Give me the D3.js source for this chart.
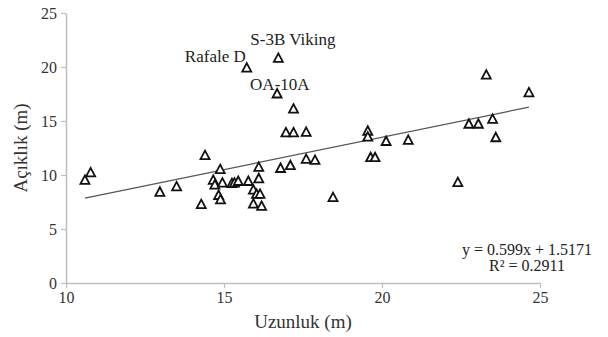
<!DOCTYPE html>
<html>
<head>
<meta charset="utf-8">
<script src="https://cdn.jsdelivr.net/npm/d3@7"></script>
<style>
  html, body { margin: 0; padding: 0; background: #fff; }
  svg text { font-family: "Liberation Serif", "Times New Roman", serif; }
</style>
</head>
<body>
<svg id="chart" width="608" height="337"></svg>
<script>
// Length (m) and span (m) of each aircraft
const lengths = [10.6, 10.78, 12.97, 13.5, 14.4, 14.28, 14.88, 14.66, 14.71, 14.95,
  14.83, 14.89, 15.25, 15.33, 15.45, 15.77, 16.1, 16.1, 15.93, 16.03,
  16.14, 15.93, 16.19, 16.79, 17.1, 17.6, 17.88, 18.45, 16.96, 17.2,
  17.6, 17.2, 16.68, 15.72, 16.72, 19.55, 19.55, 19.64, 19.78, 20.13,
  20.83, 22.75, 23.05, 23.5, 23.6, 23.3, 22.4, 24.65];
const spans = [9.5, 10.2, 8.4, 8.9, 11.8, 7.25, 10.5, 9.5, 9.07, 9.25,
  8.1, 7.7, 9.2, 9.25, 9.4, 9.4, 10.7, 9.65, 8.6, 8.2,
  8.2, 7.3, 7.1, 10.6, 10.86, 11.45, 11.35, 7.9, 13.9, 13.9,
  13.95, 16.1, 17.5, 19.9, 20.8, 14.05, 13.5, 11.6, 11.6, 13.1,
  13.2, 14.7, 14.7, 15.15, 13.45, 19.25, 9.3, 17.6];

// Named aircraft
const namedLabels = ["S-3B Viking", "Rafale D", "OA-10A"];
const namedIndex = [34, 33, 32];

const xTicks = [10, 15, 20, 25];
const yTicks = [0, 5, 10, 15, 20, 25];

const slope = 0.599, intercept = 1.5171, r2 = 0.2911;

const serif = '"Liberation Serif", "Times New Roman", serif';
const svg = d3.select("#chart");
const x = d3.scaleLinear().domain([10, 25]).range([66, 540]);
const y = d3.scaleLinear().domain([0, 25]).range([283, 13]);

const axisColor = "#bfbfbf";
const textColor = "#333";

// Axes
const xAxis = svg.append("g").attr("transform", `translate(0,${y(0)})`)
  .call(d3.axisBottom(x).tickValues(xTicks).tickSize(5).tickSizeOuter(0).tickPadding(4));
const yAxis = svg.append("g").attr("transform", `translate(${x(10)},0)`)
  .call(d3.axisLeft(y).tickValues(yTicks).tickSize(5).tickSizeOuter(0).tickPadding(4));
[xAxis, yAxis].forEach(g => {
  g.attr("font-family", serif).attr("font-size", 16);
  g.select(".domain").attr("stroke", axisColor).attr("stroke-width", 1.5);
  g.selectAll(".tick line").attr("stroke", axisColor).attr("stroke-width", 1.2);
  g.selectAll(".tick text").attr("fill", textColor);
});

// Trend line across the data range
const xMin = d3.min(lengths), xMax = d3.max(lengths);
svg.append("line")
  .attr("x1", x(xMin)).attr("y1", y(slope * xMin + intercept))
  .attr("x2", x(xMax)).attr("y2", y(slope * xMax + intercept))
  .attr("stroke", "#555").attr("stroke-width", 1.2);

// Triangle markers
const tri = "M0,-5 L4.5,3.5 L-4.5,3.5 Z";
svg.append("g").selectAll("path").data(lengths).join("path")
  .attr("d", tri)
  .attr("transform", (d, i) => `translate(${x(d)},${y(spans[i])})`)
  .attr("fill", "#fff").attr("stroke", "#111").attr("stroke-width", 1.8)
  .attr("stroke-linejoin", "miter");

// Point labels
const labelOffsets = [[-28, -13], [-1, -6], [-27, -4]];
const labelAnchors = ["start", "end", "start"];
namedLabels.forEach((t, k) => {
  const i = namedIndex[k];
  svg.append("text")
    .attr("x", x(lengths[i]) + labelOffsets[k][0])
    .attr("y", y(spans[i]) + labelOffsets[k][1])
    .attr("text-anchor", labelAnchors[k])
    .attr("fill", "#222").style("font-size", "17px").text(t);
});

// Regression equation
const eq = svg.append("g").attr("fill", "#222").style("font-size", "16px").attr("text-anchor", "middle");
eq.append("text").attr("x", 527).attr("y", 255).text(`y = ${slope}x + ${intercept}`);
eq.append("text").attr("x", 527).attr("y", 271).text(`R² = ${r2}`);

// Axis titles
svg.append("text").attr("x", 303).attr("y", 328).attr("text-anchor", "middle")
  .attr("fill", textColor).style("font-size", "19px").text("Uzunluk (m)");
svg.append("text").attr("transform", "translate(27,148) rotate(-90)").attr("text-anchor", "middle")
  .attr("fill", textColor).style("font-size", "19px").text("Açıklık (m)");
</script>
</body>
</html>
